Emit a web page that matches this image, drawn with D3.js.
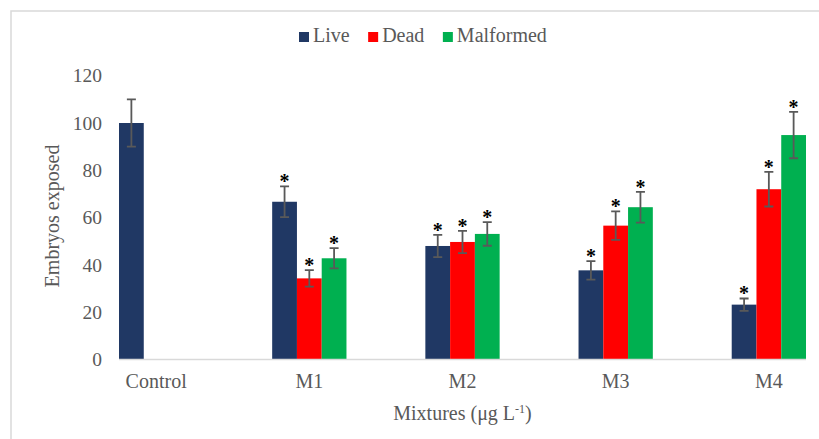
<!DOCTYPE html>
<html>
<head>
<meta charset="utf-8">
<script src="https://cdn.jsdelivr.net/npm/d3@7"></script>
<style>
  html, body { margin: 0; padding: 0; background: #fff; }
  svg { display: block; }
  text { font-family: "Liberation Serif", "Times New Roman", serif; }
</style>
</head>
<body>
<svg id="chart" width="819" height="439"></svg>
<script>
// Embryo outcomes per mixture (mean ± error)
const categories = ["Control", "M1", "M2", "M3", "M4"];
const seriesNames = ["Live", "Dead", "Malformed"];
const seriesColors = ["#203864", "#ff0000", "#00b050"];

const liveValues      = [100, 66.7, 48.0, 37.7, 23.2];
const liveErrors      = [10, 6.5, 4.7, 3.9, 2.6];
const deadValues      = [null, 34.3, 49.7, 56.6, 72.0];
const deadErrors      = [null, 3.5, 4.7, 6.0, 7.3];
const malformedValues = [null, 42.8, 53.1, 64.4, 94.9];
const malformedErrors = [null, 4.3, 5.0, 6.5, 9.8];
// significance marks (*) per category, same for every series shown
const significant     = [false, true, true, true, true];

const yTicks = [0, 20, 40, 60, 80, 100, 120];
const xTitle = "Mixtures (\u03bcg L";
const yTitle = "Embryos exposed";

const valueSets = [liveValues, deadValues, malformedValues];
const errorSets = [liveErrors, deadErrors, malformedErrors];

const rows = [];
categories.forEach((c, i) => {
  seriesNames.forEach((s, j) => {
    const v = valueSets[j][i];
    if (v != null) rows.push({ cat: c, series: s, color: seriesColors[j], value: v, err: errorSets[j][i], sig: significant[i] });
  });
});

const svg = d3.select("#chart");
const textColor = "#595959";

// chart area border
svg.append("rect")
  .attr("x", 11).attr("y", 11).attr("width", 820).attr("height", 440)
  .attr("fill", "none").attr("stroke", "#d9d9d9").attr("stroke-width", 1.5);

const x0 = d3.scaleBand().domain(categories).range([119, 806]).paddingInner(0.515).paddingOuter(0);
const x1 = d3.scaleBand().domain(seriesNames).range([0, x0.bandwidth()]).padding(0);
const y = d3.scaleLinear().domain([0, 120]).range([359.5, 75.7]);

// y tick labels (no axis line)
const yAxis = d3.axisLeft(y).tickValues(yTicks).tickSize(0).tickPadding(0);
const yG = svg.append("g").attr("transform", "translate(102,0)").call(yAxis);
yG.select(".domain").remove();
yG.selectAll("text")
  .attr("fill", textColor).style("font-size", "19.5px")
  .style("font-family", "'Liberation Serif', serif");

// bars
svg.append("g").selectAll("rect").data(rows).join("rect")
  .attr("x", d => x0(d.cat) + x1(d.series))
  .attr("width", x1.bandwidth())
  .attr("y", d => y(d.value))
  .attr("height", d => y(0) - y(d.value))
  .attr("fill", d => d.color);

// category axis
const xAxis = d3.axisBottom(x0).tickSize(0).tickPadding(0).tickSizeOuter(0);
const xG = svg.append("g").attr("transform", `translate(0,${y(0)})`).call(xAxis);
xG.select(".domain").attr("stroke", "#d9d9d9").attr("stroke-width", 1.5)
  .attr("d", `M${x0.range()[0]},0H${x0.range()[1]}`);
xG.selectAll("text")
  .attr("fill", textColor).attr("dy", null).attr("y", 28)
  .style("font-size", "20px")
  .style("font-family", "'Liberation Serif', serif");

// error bars
const errG = svg.append("g").attr("stroke", "#595959").attr("stroke-width", 1.8).attr("fill", "none");
rows.forEach(d => {
  const cx = x0(d.cat) + x1(d.series) + x1.bandwidth() / 2;
  const top = y(d.value + d.err), bot = y(d.value - d.err);
  errG.append("path").attr("d", `M${cx},${top}V${bot}M${cx - 4.5},${top}H${cx + 4.5}M${cx - 4.5},${bot}H${cx + 4.5}`);
});

// significance asterisks
svg.append("g").selectAll("text").data(rows.filter(d => d.sig)).join("text")
  .attr("x", d => x0(d.cat) + x1(d.series) + x1.bandwidth() / 2)
  .attr("y", d => y(d.value + d.err) + 2)
  .attr("text-anchor", "middle")
  .attr("fill", "#000")
  .style("font-size", "20px")
  .style("font-weight", "bold")
  .text("*");

// axis titles
const xt = svg.append("text")
  .attr("x", (x0.range()[0] + x0.range()[1]) / 2).attr("y", 420)
  .attr("text-anchor", "middle").attr("fill", textColor)
  .style("font-size", "20px");
xt.append("tspan").text(xTitle);
xt.append("tspan").attr("dy", -7).style("font-size", "12px").text("-1");
xt.append("tspan").attr("dy", 7).text(")");

svg.append("text")
  .attr("transform", "translate(59,216) rotate(-90)")
  .attr("text-anchor", "middle").attr("fill", textColor)
  .style("font-size", "20px")
  .text(yTitle);

// legend
const legend = svg.append("g");
let lx = 299;
seriesNames.forEach((s, j) => {
  legend.append("rect").attr("x", lx).attr("y", 32).attr("width", 10).attr("height", 10).attr("fill", seriesColors[j]);
  const t = legend.append("text").attr("x", lx + 14).attr("y", 42)
    .attr("fill", textColor).style("font-size", "20px").text(s);
  lx += 14 + t.node().getComputedTextLength() + 18.5;
});
</script>
</body>
</html>
